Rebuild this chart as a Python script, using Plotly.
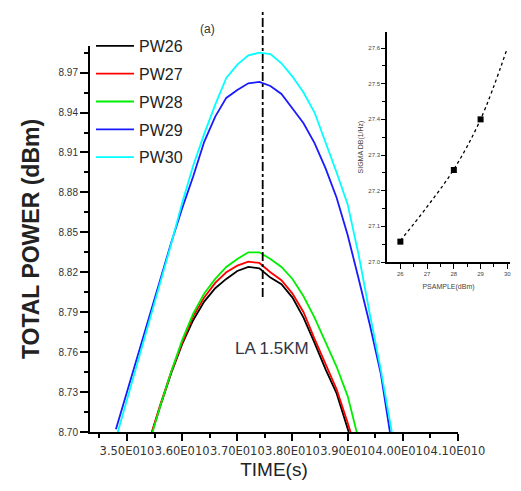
import plotly.graph_objects as go

# ---------------- data ----------------
TIME_E10 = [3.48, 3.50, 3.52, 3.54, 3.56, 3.58, 3.60, 3.62, 3.64, 3.66, 3.68, 3.70, 3.72,
            3.74, 3.76, 3.78, 3.80, 3.82, 3.84, 3.86, 3.88, 3.90, 3.92, 3.94, 3.96, 3.98]

PW26 = [None, None, 8.669, 8.693, 8.719, 8.744, 8.766, 8.784, 8.798, 8.808, 8.815, 8.821, 8.824,
        8.823, 8.816, 8.811, 8.801, 8.786, 8.767, 8.747, 8.729, 8.702, 8.676, None, None, None]
PW27 = [None, None, 8.670, 8.693, 8.720, 8.745, 8.767, 8.787, 8.801, 8.812, 8.820, 8.825, 8.828,
        8.827, 8.820, 8.814, 8.804, 8.790, 8.770, 8.751, 8.732, 8.707, 8.680, None, None, None]
PW28 = [None, None, 8.670, 8.691, 8.719, 8.745, 8.769, 8.789, 8.804, 8.815, 8.824, 8.830, 8.835,
        8.835, 8.830, 8.824, 8.815, 8.802, 8.786, 8.768, 8.749, 8.727, 8.694, None, None, None]
PW29 = [8.702, 8.730, 8.758, 8.787, 8.814, 8.842, 8.868, 8.892, 8.918, 8.937, 8.951, 8.957, 8.962,
        8.963, 8.960, 8.954, 8.943, 8.932, 8.917, 8.898, 8.876, 8.848, 8.815, 8.781, 8.744, 8.691]
PW30 = [8.695, 8.724, 8.754, 8.783, 8.812, 8.841, 8.872, 8.900, 8.924, 8.946, 8.966, 8.976, 8.983,
        8.985, 8.984, 8.977, 8.967, 8.955, 8.940, 8.918, 8.895, 8.871, 8.833, 8.789, 8.747, 8.700]

SERIES_NAMES = ["PW26", "PW27", "PW28", "PW29", "PW30"]
SERIES_COLORS = ["#000000", "#ff0000", "#00ee00", "#1a1aff", "#00ffff"]

X_TICKS = [3.50, 3.60, 3.70, 3.80, 3.90, 4.00, 4.10]
X_TICK_LABELS = ["3.50E010", "3.60E010", "3.70E010", "3.80E010", "3.90E010", "4.00E010", "4.10E010"]
X_MINOR = [3.45, 3.55, 3.65, 3.75, 3.85, 3.95, 4.05]
Y_TICKS = [8.70, 8.73, 8.76, 8.79, 8.82, 8.85, 8.88, 8.91, 8.94, 8.97]
Y_TICK_LABELS = ["8.70", "8.73", "8.76", "8.79", "8.82", "8.85", "8.88", "8.91", "8.94", "8.97"]
Y_MINOR = [8.715, 8.745, 8.775, 8.805, 8.835, 8.865, 8.895, 8.925, 8.955, 8.985]

PEAK_TIME_E10 = 3.746

INSET_X = [26, 27, 28, 29, 30]
INSET_FIT = [27.06, 27.155, 27.26, 27.40, 27.60]
INSET_PTS_X = [26, 28, 29]
INSET_PTS_Y = [27.057, 27.258, 27.40]
INSET_X_TICKS = [26, 27, 28, 29, 30]
INSET_X_MINOR = [26.5, 27.5, 28.5, 29.5]
INSET_Y_TICKS = [27.0, 27.1, 27.2, 27.3, 27.4, 27.5, 27.6]
INSET_Y_MINOR = [27.05, 27.15, 27.25, 27.35, 27.45, 27.55]

# ---------------- figure ----------------
W, H = 521, 491
fig = go.Figure()

for name, ys, col in zip(SERIES_NAMES, [PW26, PW27, PW28, PW29, PW30], SERIES_COLORS):
    fig.add_trace(go.Scatter(x=TIME_E10, y=ys, mode="lines", name=name,
                             line=dict(color=col, width=1.8), legendgroup=name,
                             xaxis="x", yaxis="y"))

fig.add_trace(go.Scatter(x=INSET_X, y=INSET_FIT, mode="lines", showlegend=False,
                         line=dict(color="black", width=1.3, dash="dot", shape="spline"),
                         xaxis="x2", yaxis="y2"))
fig.add_trace(go.Scatter(x=INSET_PTS_X, y=INSET_PTS_Y, mode="markers", showlegend=False,
                         marker=dict(symbol="square", size=6, color="black"),
                         xaxis="x2", yaxis="y2"))


def px_x(p):
    return p / W


def px_y(p):
    return 1 - p / H


axis_common = dict(showgrid=False, zeroline=False, showline=True, linecolor="black",
                   ticks="outside", tickcolor="black", automargin=False)

fig.update_layout(
    width=W, height=H,
    autosize=False,
    hovermode=False,
    margin=dict(l=0, r=0, t=0, b=0, pad=0, autoexpand=False),
    paper_bgcolor="white", plot_bgcolor="white",
    font=dict(family="Liberation Sans, Arial, sans-serif", color="#222"),
    showlegend=True,
    legend=dict(x=px_x(91), y=px_y(29), xanchor="left", yanchor="top",
                bgcolor="rgba(0,0,0,0)", font=dict(size=16, color="#222"),
                tracegroupgap=4, itemwidth=38),
    xaxis=dict(domain=[px_x(90), px_x(458)], range=[3.433, 4.10], anchor="y",
               tickvals=X_TICKS, ticktext=X_TICK_LABELS, ticklen=7, tickwidth=1.5,
               tickangle=0,
               linewidth=2, tickfont=dict(size=11.5, color="#333", family="DejaVu Sans"),
               minor=dict(tickvals=X_MINOR, ticks="outside", ticklen=4, tickwidth=1.5, tickcolor="black"),
               title=dict(text="TIME(s)", font=dict(size=19, color="#222"), standoff=6),
               **axis_common),
    yaxis=dict(domain=[px_y(432), px_y(46)], range=[8.70, 8.99], anchor="x",
               tickvals=Y_TICKS, ticktext=Y_TICK_LABELS, ticklen=8, tickwidth=1.5,
               linewidth=2, tickfont=dict(size=10, color="#333"),
               minor=dict(tickvals=Y_MINOR, ticks="outside", ticklen=4, tickwidth=1.5, tickcolor="black"),
               title=dict(text="<b>TOTAL POWER (dBm)</b>", font=dict(size=23, color="#222"), standoff=12),
               **axis_common),
    xaxis2=dict(domain=[px_x(387), px_x(510)], range=[25.5, 30.1], anchor="y2",
                tickvals=INSET_X_TICKS, ticktext=[str(v) for v in INSET_X_TICKS],
                ticklen=5, tickwidth=1.2, linewidth=1.5, tickfont=dict(size=6, color="#444"),
                minor=dict(tickvals=INSET_X_MINOR, ticks="outside", ticklen=3, tickwidth=1.2, tickcolor="black"),
                title=dict(text="PSAMPLE(dBm)", font=dict(size=7, color="#444"), standoff=8),
                **axis_common),
    yaxis2=dict(domain=[px_y(262), px_y(32)], range=[27.0, 27.645], anchor="x2",
                tickvals=INSET_Y_TICKS, ticktext=["%.1f" % v for v in INSET_Y_TICKS],
                ticklen=4, tickwidth=1.2, linewidth=1.5, tickfont=dict(size=6, color="#444"),
                minor=dict(tickvals=INSET_Y_MINOR, ticks="outside", ticklen=3, tickwidth=1.2, tickcolor="black"),
                title=dict(text="SIGMA DB(1/Hz)", font=dict(size=7, color="#444"), standoff=4),
                **axis_common),
    shapes=[dict(type="line", xref="x", yref="paper", x0=PEAK_TIME_E10, x1=PEAK_TIME_E10,
                 y0=px_y(297), y1=px_y(12), line=dict(color="black", width=1.8, dash="dashdot"))],
    annotations=[
        dict(text="(a)", x=px_x(207), y=px_y(20), xref="paper", yref="paper",
             showarrow=False, font=dict(size=12, color="#333")),
        dict(text="LA 1.5KM", x=px_x(272), y=px_y(360), xref="paper", yref="paper",
             showarrow=False, font=dict(size=17, color="#333344")),
    ],
)

fig.write_html("out.html", config={"displayModeBar": False, "staticPlot": False},
               post_script="document.body.style.margin='0';")
